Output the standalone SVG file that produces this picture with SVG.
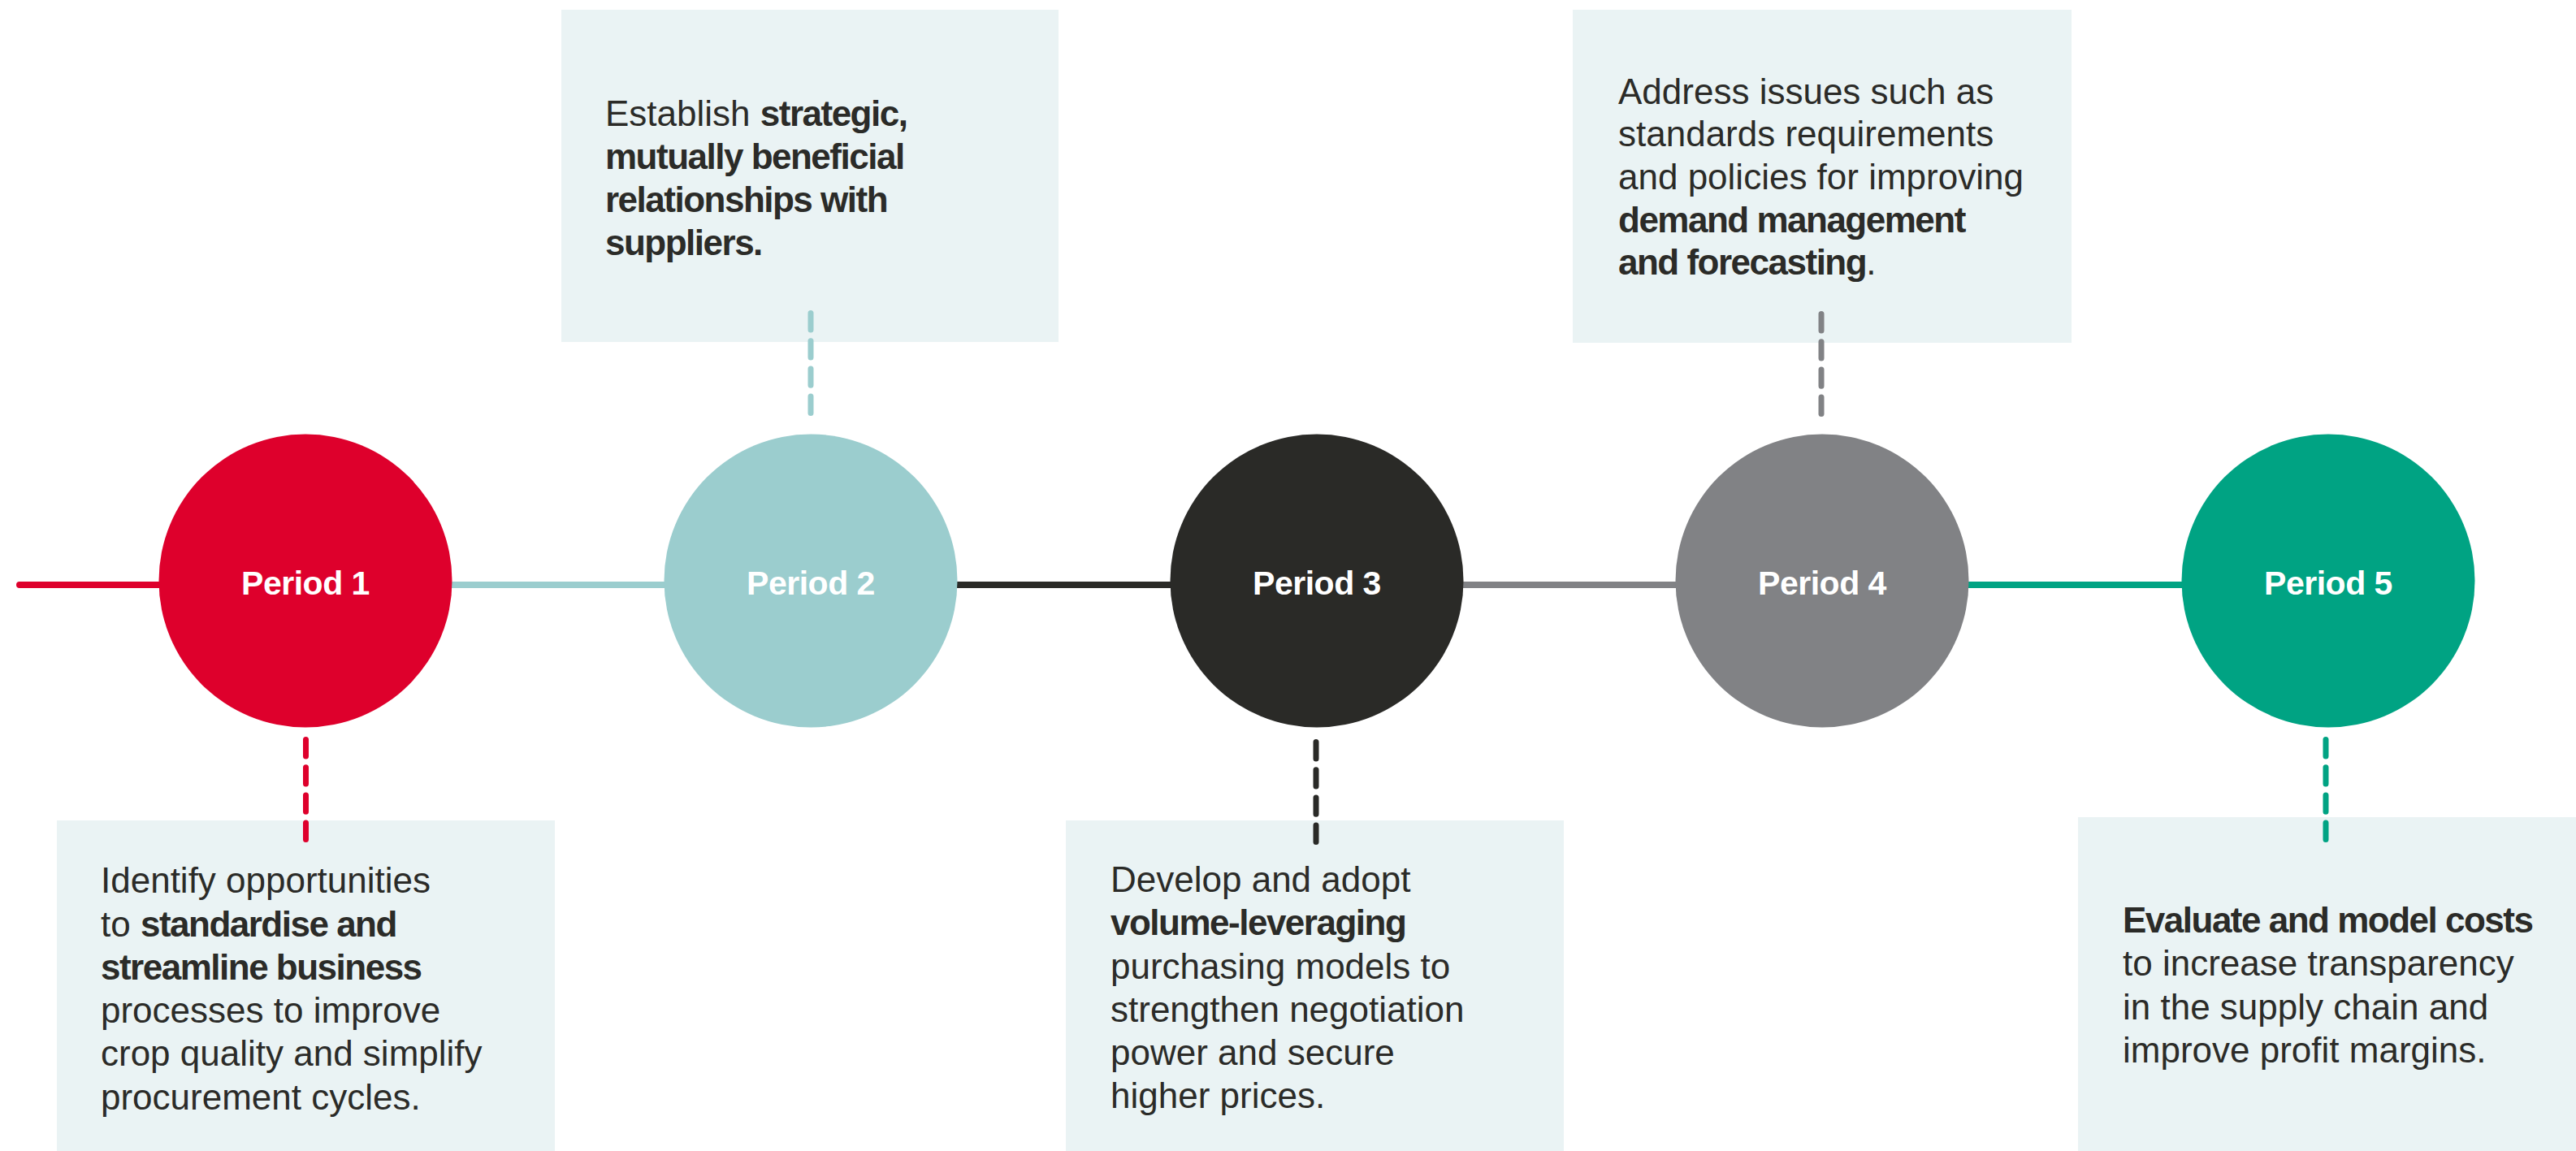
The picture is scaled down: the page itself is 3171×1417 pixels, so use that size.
<svg xmlns="http://www.w3.org/2000/svg" width="3171" height="1417" viewBox="0 0 3171 1417">
<style>
.box{fill:#EAF3F4}
.body{font-family:"Liberation Sans",Arial,sans-serif;font-size:44px;fill:#2B2B28}
.b{font-weight:bold;letter-spacing:-1.5px}
.lbl{font-family:"Liberation Sans",Arial,sans-serif;font-size:41px;font-weight:bold;fill:#FFFFFF;text-anchor:middle;letter-spacing:-0.5px}
.dash{stroke-width:7;stroke-linecap:round;stroke-dasharray:20.4 13.8;fill:none}
.seg{stroke-width:8;fill:none}
</style>
<rect width="3171" height="1417" fill="#FFFFFF"/>
<g id="box1">
<rect class="box" x="70" y="1010" width="613" height="407"/>
<text class="body" x="124" y="1099">Identify opportunities</text>
<text class="body" x="124" y="1153">to <tspan class="b">standardise and</tspan></text>
<text class="body" x="124" y="1206"><tspan class="b">streamline business</tspan></text>
<text class="body" x="124" y="1259">processes to improve</text>
<text class="body" x="124" y="1312">crop quality and simplify</text>
<text class="body" x="124" y="1366">procurement cycles.</text>
</g>
<g id="box2">
<rect class="box" x="691" y="12" width="612" height="409"/>
<text class="body" x="745" y="155">Establish <tspan class="b">strategic,</tspan></text>
<text class="body" x="745" y="208"><tspan class="b">mutually beneficial</tspan></text>
<text class="body" x="745" y="261"><tspan class="b">relationships with</tspan></text>
<text class="body" x="745" y="314"><tspan class="b">suppliers.</tspan></text>
</g>
<g id="box3">
<rect class="box" x="1312" y="1010" width="613" height="407"/>
<text class="body" x="1367" y="1098">Develop and adopt</text>
<text class="body" x="1367" y="1151"><tspan class="b">volume-leveraging</tspan></text>
<text class="body" x="1367" y="1205">purchasing models to</text>
<text class="body" x="1367" y="1258">strengthen negotiation</text>
<text class="body" x="1367" y="1311">power and secure</text>
<text class="body" x="1367" y="1364">higher prices.</text>
</g>
<g id="box4">
<rect class="box" x="1936" y="12" width="614" height="410"/>
<text class="body" x="1992" y="128">Address issues such as</text>
<text class="body" x="1992" y="180">standards requirements</text>
<text class="body" x="1992" y="233">and policies for improving</text>
<text class="body" x="1992" y="286"><tspan class="b">demand management</tspan></text>
<text class="body" x="1992" y="338"><tspan class="b">and forecasting</tspan>.</text>
</g>
<g id="box5">
<rect class="box" x="2558" y="1006" width="613" height="411"/>
<text class="body" x="2613" y="1148"><tspan class="b">Evaluate and model costs</tspan></text>
<text class="body" x="2613" y="1201">to increase transparency</text>
<text class="body" x="2613" y="1255">in the supply chain and</text>
<text class="body" x="2613" y="1308">improve profit margins.</text>
</g>
<g id="connectors">
<line class="seg" x1="24" y1="720" x2="376" y2="720" stroke="#DE002C" stroke-linecap="round"/>
<line class="seg" x1="376" y1="720" x2="998" y2="720" stroke="#9BCDCE"/>
<line class="seg" x1="998" y1="720" x2="1621" y2="720" stroke="#2A2A27"/>
<line class="seg" x1="1621" y1="720" x2="2243" y2="720" stroke="#818285"/>
<line class="seg" x1="2243" y1="720" x2="2866" y2="720" stroke="#00A383"/>
<line class="dash" x1="376.5" y1="910.5" x2="376.5" y2="1035.5" stroke="#DE002C"/>
<line class="dash" x1="998" y1="385.5" x2="998" y2="510" stroke="#9BCDCE"/>
<line class="dash" x1="1620" y1="913.5" x2="1620" y2="1038" stroke="#2A2A27"/>
<line class="dash" x1="2242" y1="386.5" x2="2242" y2="511" stroke="#818285"/>
<line class="dash" x1="2863" y1="910.5" x2="2863" y2="1035.5" stroke="#00A383"/>
</g>
<g id="period1"><circle cx="376" cy="715" r="180.5" fill="#DE002C"/><text class="lbl" x="376" y="732">Period 1</text></g>
<g id="period2"><circle cx="998" cy="715" r="180.5" fill="#9BCDCE"/><text class="lbl" x="998" y="732">Period 2</text></g>
<g id="period3"><circle cx="1621" cy="715" r="180.5" fill="#2A2A27"/><text class="lbl" x="1621" y="732">Period 3</text></g>
<g id="period4"><circle cx="2243" cy="715" r="180.5" fill="#818285"/><text class="lbl" x="2243" y="732">Period 4</text></g>
<g id="period5"><circle cx="2866" cy="715" r="180.5" fill="#00A383"/><text class="lbl" x="2866" y="732">Period 5</text></g>
</svg>
